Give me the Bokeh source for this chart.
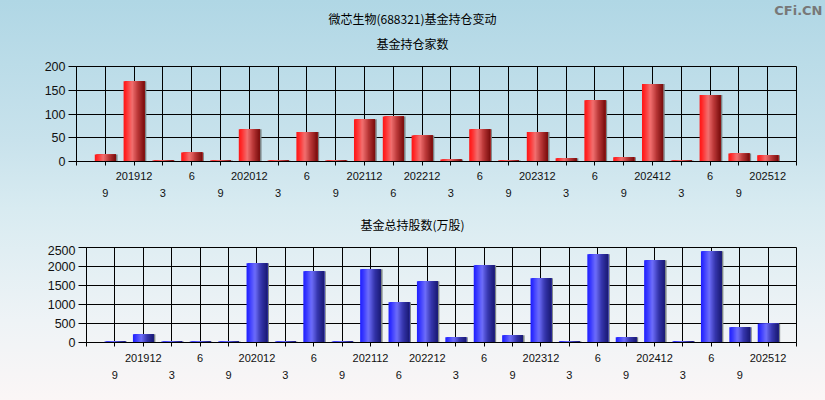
from bokeh.plotting import figure
from bokeh.models import Range1d, FixedTicker, LinearAxis, Label, ColumnDataSource
from bokeh.transform import dodge
from bokeh.layouts import column, row
from bokeh.embed import file_html
from bokeh.resources import INLINE

# ---------------- data ----------------
quarters = ["201909", "201912", "202003", "202006", "202009", "202012",
            "202103", "202106", "202109", "202112", "202206", "202212",
            "202303", "202306", "202309", "202312", "202403", "202406",
            "202409", "202412", "202503", "202506", "202509", "202512"]
tick_labels = ["9", "201912", "3", "6", "9", "202012",
               "3", "6", "9", "202112", "6", "202212",
               "3", "6", "9", "202312", "3", "6",
               "9", "202412", "3", "6", "9", "202512"]
fund_counts = [15, 169, 2, 19, 2, 68, 2, 62, 2, 89, 95, 55,
               4, 68, 2, 62, 7, 129, 9, 163, 2, 140, 17, 13]
fund_shares = [25, 215, 25, 25, 25, 2087, 25, 1877, 25, 1930, 1061, 1614,
               140, 2035, 193, 1693, 30, 2324, 140, 2166, 30, 2403, 403, 491]

main_title = "微芯生物(688321)基金持仓变动"
sub_title_1 = "基金持仓家数"
sub_title_2 = "基金总持股数(万股)"
watermark = "CFi.CN"
count_ticks = [0, 50, 100, 150, 200]
share_ticks = [0, 500, 1000, 1500, 2000, 2500]

RED_STOPS = [(0.0, (255, 22, 22)), (0.12, (255, 40, 40)), (0.40, (242, 112, 112)),
             (0.68, (185, 55, 55)), (1.0, (120, 12, 12))]
BLUE_STOPS = [(0.0, (30, 30, 255)), (0.12, (50, 50, 255)), (0.40, (110, 110, 250)),
              (0.68, (55, 55, 175)), (1.0, (25, 25, 115))]

CJK = "Noto Sans CJK SC"
LAT = "Liberation Sans"
W = 825


def grad(stops, t):
    for (t0, c0), (t1, c1) in zip(stops[:-1], stops[1:]):
        if t <= t1:
            f = (t - t0) / (t1 - t0) if t1 > t0 else 0
            c = [round(a + (b - a) * f) for a, b in zip(c0, c1)]
            return "#%02x%02x%02x" % tuple(c)
    return "#%02x%02x%02x" % stops[-1][1]


def make_header(height, y0):
    # a bare panel whose frame spans the whole canvas, used for the title texts
    h = figure(width=W, height=height, x_range=Range1d(0, W),
               y_range=Range1d(y0 + height, y0), output_backend="svg",
               toolbar_location=None, x_axis_location=None, y_axis_location=None,
               min_border_left=0, min_border_right=0, min_border_top=0,
               min_border_bottom=0)
    h.border_fill_color = None
    h.background_fill_color = None
    h.outline_line_color = None
    h.xgrid.visible = False
    h.ygrid.visible = False
    return h


def make_panel(vals, ymax, yticks, stops, height, border_left, border_top,
               border_bottom, std1, std2):
    n = len(quarters)
    p = figure(width=W, height=height, x_range=Range1d(-1, n),
               y_range=Range1d(0, ymax), output_backend="svg",
               toolbar_location=None, min_border_left=border_left,
               min_border_right=29, min_border_top=border_top,
               min_border_bottom=border_bottom)
    p.border_fill_color = None
    p.background_fill_color = None
    p.outline_line_color = "black"
    p.outline_line_width = 1

    src = ColumnDataSource(dict(x=list(range(n)), v=vals))
    w = 0.73
    # shadow
    p.vbar(x=dodge("x", 0.06, range=p.x_range), top="v", width=w, bottom=0,
           source=src, fill_color="#7c8486", line_color=None)
    N = 18
    for i in range(N):
        left = -w / 2 + i * w / N
        right = w / 2
        c = grad(stops, (i + 0.5) / N)
        p.vbar(x=dodge("x", (left + right) / 2, range=p.x_range), top="v",
               width=right - left, bottom=0, source=src,
               fill_color=c, line_color=None)

    # grids
    p.xgrid.ticker = FixedTicker(ticks=list(range(n)))
    p.xgrid.grid_line_color = "black"
    p.xgrid.grid_line_width = 1
    p.ygrid.ticker = FixedTicker(ticks=yticks)
    p.ygrid.grid_line_color = "black"
    p.ygrid.grid_line_width = 1

    # y axis
    ya = p.yaxis[0]
    ya.ticker = FixedTicker(ticks=yticks)
    ya.axis_line_color = "black"
    ya.major_tick_line_color = "black"
    ya.major_tick_out = 8
    ya.major_tick_in = 0
    ya.minor_tick_line_color = None
    ya.major_label_standoff = 3
    ya.major_label_text_font = LAT
    ya.major_label_text_font_size = "12.5px"
    ya.major_label_text_color = "#111111"

    # x axis row 1 (odd indices)
    xa = p.xaxis[0]
    ticks_all = list(range(-1, n + 1))
    xa.ticker = FixedTicker(ticks=ticks_all)
    xa.major_label_overrides = {t: (tick_labels[t] if 0 <= t < n and t % 2 == 1 else "")
                                for t in ticks_all}
    xa.axis_line_color = "black"
    xa.major_tick_line_color = "black"
    xa.major_tick_out = 4
    xa.major_tick_in = 0
    xa.minor_tick_line_color = None
    xa.major_label_standoff = std1
    xa.major_label_text_font = LAT
    xa.major_label_text_font_size = "11px"
    xa.major_label_text_color = "#111111"

    # x axis row 2 (even indices)
    evens = list(range(0, n, 2))
    xa2 = LinearAxis(ticker=FixedTicker(ticks=evens),
                     major_label_overrides={t: tick_labels[t] for t in evens})
    xa2.axis_line_color = None
    xa2.major_tick_line_color = None
    xa2.minor_tick_line_color = None
    xa2.major_tick_out = 0
    xa2.major_tick_in = 0
    xa2.major_label_standoff = std2
    xa2.major_label_text_font = LAT
    xa2.major_label_text_font_size = "11px"
    xa2.major_label_text_color = "#111111"
    p.add_layout(xa2, "below")
    return p


h1 = make_header(60, 0)
h1.add_layout(Label(x=412, y=18, text=main_title, text_align="center",
                    text_baseline="middle", text_font=CJK,
                    text_font_size="12px", text_color="black"))
h1.add_layout(Label(x=412, y=43, text=sub_title_1, text_align="center",
                    text_baseline="middle", text_font=CJK,
                    text_font_size="12px", text_color="black"))
h1.add_layout(Label(x=822, y=10, text=watermark, text_align="right",
                    text_baseline="middle", text_font="DejaVu Sans",
                    text_font_size="13px", text_font_style="bold",
                    text_color="#787878"))

p1 = make_panel(fund_counts, 200, count_ticks, RED_STOPS, height=145,
                border_left=76, border_top=6, border_bottom=44, std1=6, std2=6)

h2 = make_header(40, 205)
h2.add_layout(Label(x=412, y=224, text=sub_title_2, text_align="center",
                    text_baseline="middle", text_font=CJK,
                    text_font_size="12px", text_color="black"))

p2 = make_panel(fund_shares, 2500, share_ticks, BLUE_STOPS, height=155,
                border_left=86, border_top=2, border_bottom=58, std1=7, std2=6)

# each panel in its own row so that the column does not align their frames
layout = column(row(h1), row(p1), row(h2), row(p2), spacing=0,
                styles={"background": "linear-gradient(to bottom, #b0d7e5 0%, #c8e2ec 35%, #d8ebf1 52%, #eef3f6 80%, #fbf6f6 100%)"})

open("out.html", "w").write(file_html(layout, INLINE))
